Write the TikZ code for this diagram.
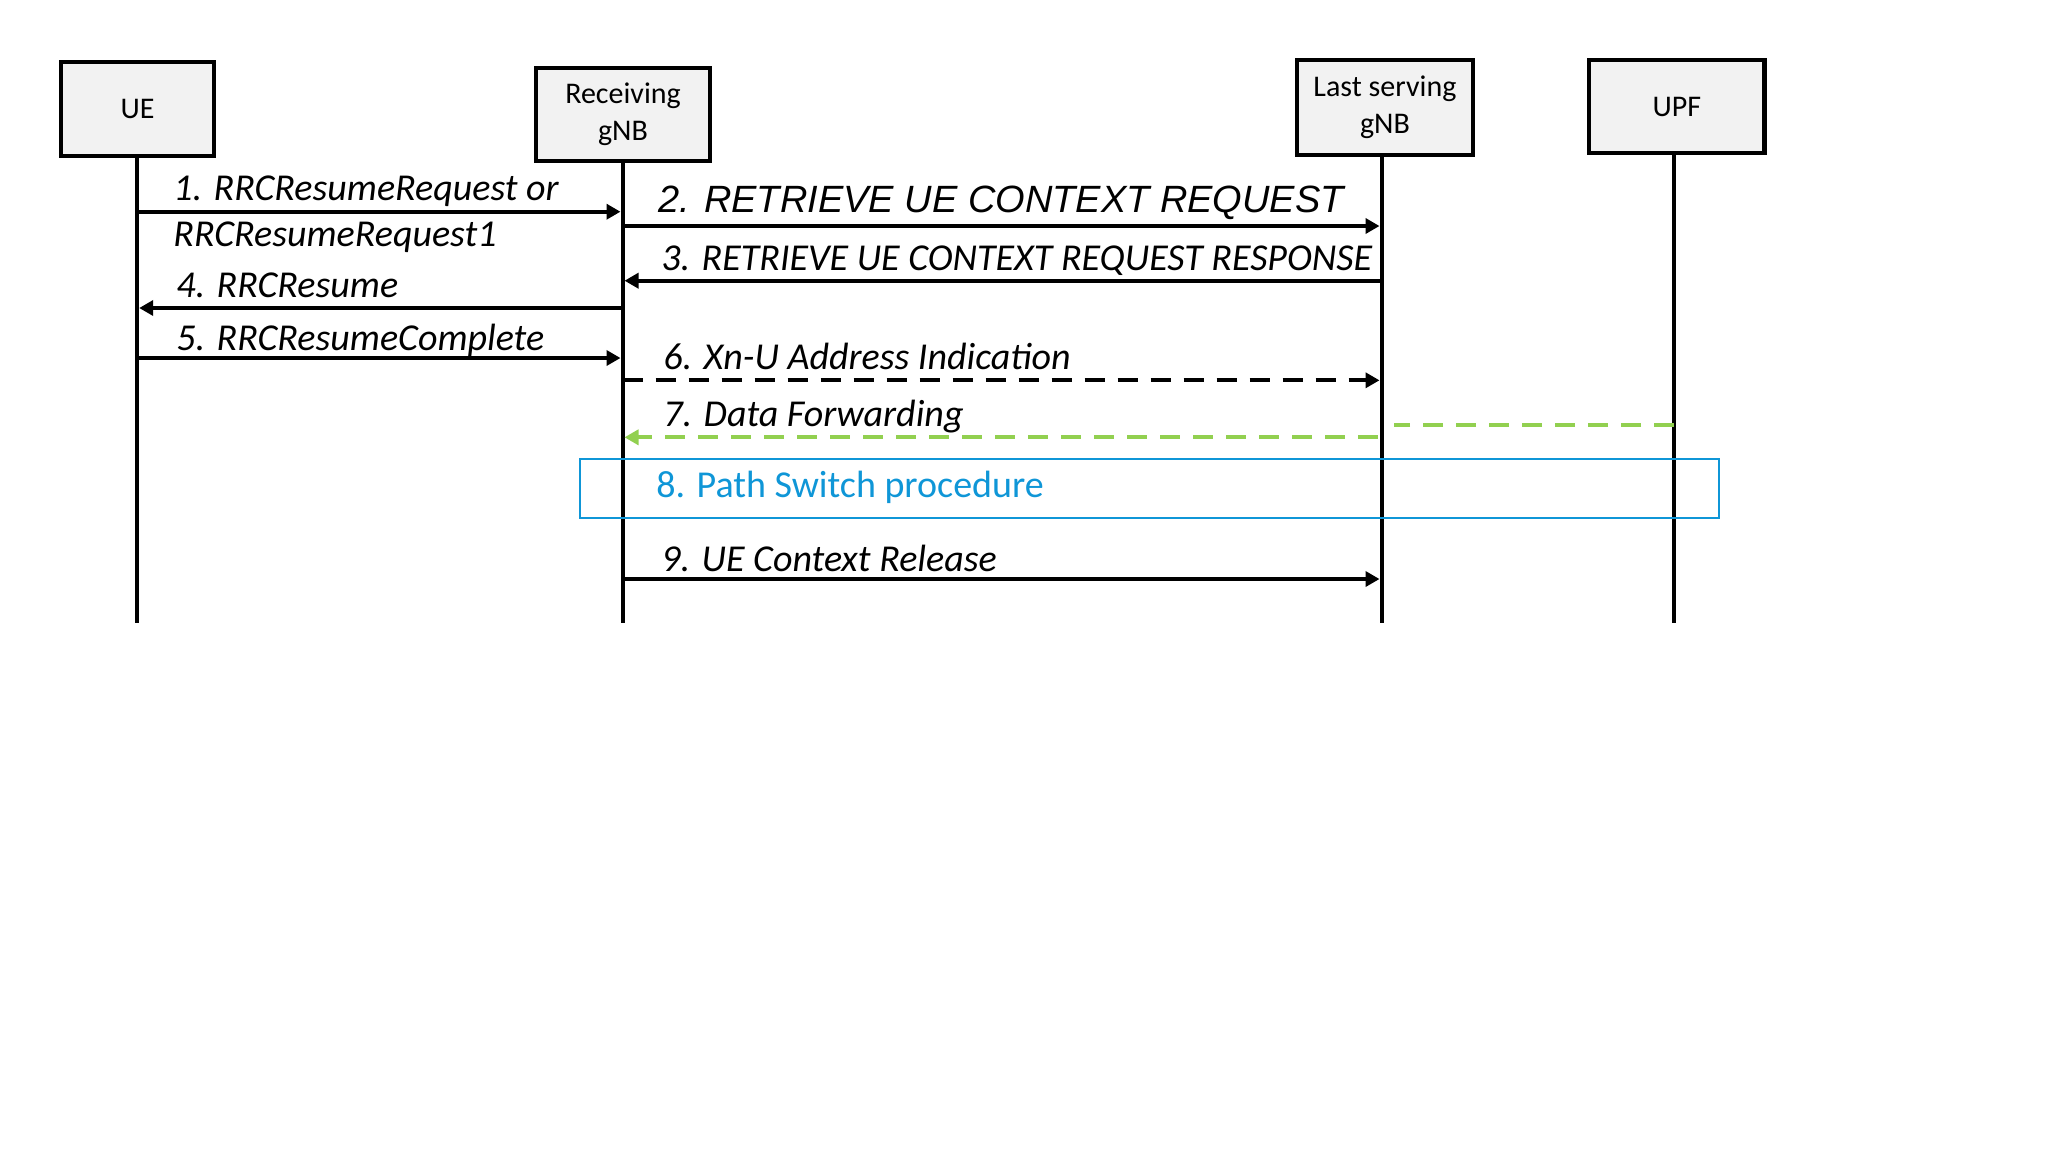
\documentclass[tikz,border=0pt]{standalone}
\usepackage{fontspec}
\setmainfont{Carlito}
\newfontfamily\arialfont{Liberation Sans}
\usetikzlibrary{arrows.meta,positioning,calc}
\definecolor{fwdgreen}{HTML}{92D050}
\definecolor{psblue}{HTML}{0F96D7}
\definecolor{boxgray}{HTML}{F2F2F2}

\begin{document}
\begin{tikzpicture}[x=0.5pt, y=-0.5pt, >={Triangle[length=7pt,width=7.5pt]},
    entity/.style={draw, line width=2.2pt, fill=boxgray, align=center, inner sep=0pt,
        font=\fontsize{15}{18.5}\selectfont},
    life/.style={line width=2pt},
    msg/.style={line width=2pt, ->, shorten >=1pt},
    dashmsg/.style={msg, dash pattern=on 10pt off 6.5pt},
    lbl/.style={anchor=base west, inner sep=0pt, font=\fontsize{19}{22}\selectfont\itshape}]
    \useasboundingbox (0,0) rectangle (2048,1153);

    \node[entity, minimum width=76.7pt, minimum height=46.85pt] (ue) at (137.5,108.9) {UE};
    \node[entity, minimum width=87pt, minimum height=46.5pt] (rx) at (623,114.5) {Receiving\\gNB};
    \node[entity, minimum width=87.8pt, minimum height=47.5pt] (ls) at (1384.9,107.5) {Last serving\\gNB};
    \node[entity, minimum width=87.8pt, minimum height=46.5pt] (upf) at (1676.8,106.5) {UPF};

    \coordinate (ueE) at (137.2,623);
    \coordinate (rxE) at (622.5,623);
    \coordinate (lsE) at (1381.5,623);
    \coordinate (upfE) at (1674,623);
    \draw[life] (ueE |- ue.south) -- (ueE);
    \draw[life] (rxE |- rx.south) -- (rxE);
    \draw[life] (lsE |- ls.south) -- (lsE);
    \draw[life] (upfE |- upf.south) -- (upfE);

    \coordinate (m1) at (0,211.7);
    \coordinate (m2) at (0,226);
    \coordinate (m3) at (0,280.7);
    \coordinate (m4) at (0,308);
    \coordinate (m5) at (0,358);
    \coordinate (m6) at (0,380.3);
    \coordinate (m7a) at (0,425);
    \coordinate (m7b) at (0,437.3);
    \coordinate (m9) at (0,579);

    \draw[msg] (ueE |- m1) -- (rxE |- m1);
    \draw[msg] (rxE |- m2) -- (lsE |- m2);
    \draw[msg] (lsE |- m3) -- (rxE |- m3);
    \draw[msg] (rxE |- m4) -- (ueE |- m4);
    \draw[msg] (ueE |- m5) -- (rxE |- m5);
    \draw[dashmsg] (rxE |- m6) -- (lsE |- m6);
    \draw[line width=2pt, fwdgreen, dash pattern=on 10pt off 6.5pt, shorten >=6pt] (upfE |- m7a) -- (lsE |- m7a);
    \draw[dashmsg, fwdgreen, shorten <=2pt] (lsE |- m7b) -- (rxE |- m7b);
    \draw[msg] (rxE |- m9) -- (lsE |- m9);

    \node[draw=psblue, line width=1pt, minimum width=569.5pt, minimum height=29.35pt, inner sep=0pt] (ps) at (1149.15,488.35) {};

    \node[lbl] (t1) at (173,200) {1. RRCResumeRequest or};
    \node[lbl] (t1b) at (173,246) {RRCResumeRequest1};
    \node[lbl, font=\fontsize{19}{22}\selectfont\arialfont\itshape] (t2) at (658,212.7) {2. RETRIEVE UE CONTEXT REQUEST};
    \node[lbl] (t3) at (661,270.7) {3. RETRIEVE UE CONTEXT REQUEST RESPONSE};
    \node[lbl] (t4) at (176,297.7) {4. RRCResume};
    \node[lbl] (t5) at (176,350) {5. RRCResumeComplete};
    \node[lbl] (t6) at (663,369) {6. Xn-U Address Indication};
    \node[lbl] (t7) at (663,426.7) {7. Data Forwarding};
    \node[lbl, font=\fontsize{19}{22}\selectfont, text=psblue] (t8) at (656,497.7) {8. Path Switch procedure};
    \node[lbl] (t9) at (661,571.7) {9. UE Context Release};
\end{tikzpicture}
\end{document}
